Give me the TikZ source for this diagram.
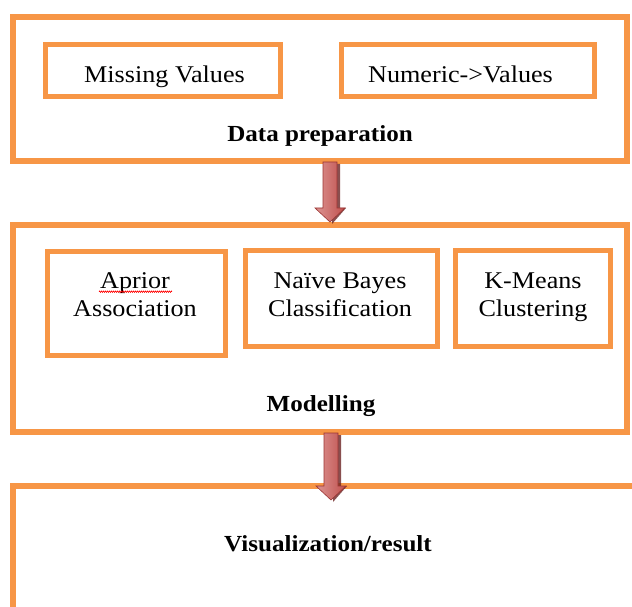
\documentclass[tikz,border=0pt]{standalone}
\usepackage{fontspec}
\setmainfont{Liberation Serif}[FakeStretch=1.09]
\usetikzlibrary{calc,decorations.pathmorphing}
\definecolor{boxorange}{HTML}{F79646}
\definecolor{arrowred}{HTML}{C0504D}
\definecolor{arrowdark}{HTML}{9B3432}
\definecolor{arrowlight}{HTML}{DC9492}
\tikzset{
  outerbox/.style={draw=boxorange, line width=5.5pt, inner sep=0pt},
  innerbox/.style={draw=boxorange, line width=5pt, inner sep=0pt},
  regtext/.style={font=\fontsize{24}{28}\selectfont, align=center, inner sep=0pt, anchor=base},
  boldtext/.style={font=\fontsize{23}{27}\selectfont\bfseries, inner sep=0pt, anchor=base},
  blockarrow/.style={left color=arrowlight, right color=arrowred, draw=arrowdark, line width=0.6pt},
  arrowshadow/.style={fill=arrowdark!70!black, draw=none, opacity=0.8},
  spellmark/.style={red, line width=0.5pt, decorate, decoration={zigzag, segment length=2pt, amplitude=0.8pt}}
}
\newcommand{\blockarr}[2]{%
  \fill[arrowshadow] ($(#1)+(3,-2)$) -- ($(#1)+(10,-2)$) -- ($(#2)+(10,14)$) -- ($(#2)+(16,14)$) -- ($(#2)+(2,-2)$) -- cycle;
  \draw[blockarrow] ($(#1)+(-7,0)$) -- ($(#1)+(7,0)$) -- ($(#2)+(7,14)$) -- ($(#2)+(15,14)$) -- (#2) -- ($(#2)+(-15,14)$) -- ($(#2)+(-7,14)$) -- cycle;
}
\begin{document}
\begin{tikzpicture}[x=1pt,y=1pt]
\useasboundingbox (0,0) rectangle (632,606);
\fill[white] (0,0) rectangle (632,606);
% Data preparation
\node[outerbox, minimum width=614pt, minimum height=144pt] (prep) at (320,517) {};
\node[innerbox, minimum width=235pt, minimum height=52pt] (missing) at (162.5,535) {};
\node[regtext] (missingt) at (164.5,523.3) {Missing Values};
\node[innerbox, minimum width=253pt, minimum height=52pt] (numeric) at (467.5,535) {};
\node[regtext] (numerict) at (460.5,523.3) {Numeric->Values};
\node[boldtext] (prept) at (320,464.3) {Data preparation};
% Modelling
\node[outerbox, minimum width=614pt, minimum height=207pt] (model) at (320,277.5) {};
\node[innerbox, minimum width=178pt, minimum height=103pt] (apr) at (136,302.5) {};
\node[regtext] (aprt) at (135,290) {Aprior\\Association};
\node[innerbox, minimum width=192pt, minimum height=95pt] (nb) at (341,307.5) {};
\node[regtext] (nbt) at (340,290) {Naïve Bayes\\Classification};
\node[innerbox, minimum width=155pt, minimum height=95pt] (km) at (532.5,307.5) {};
\node[regtext] (kmt) at (533,290) {K-Means\\Clustering};
\coordinate (sp1) at (99,314.3);
\coordinate (sp2) at (172,314.3);
\draw[spellmark] (sp1) -- (sp2);
\node[boldtext] (modelt) at (321,194.3) {Modelling};
% Visualization
\coordinate (visbl) at (13,-10);
\coordinate (vistl) at (13,120);
\coordinate (vistr) at (640,120);
\draw[draw=boxorange, line width=5.5pt] (visbl) -- (vistl) -- (vistr);
\node[boldtext] (vist) at (328,55) {Visualization/result};
% Arrows
\coordinate (a1s) at (330,444);
\coordinate (a1e) at (330,384);
\coordinate (a2s) at (331,173);
\coordinate (a2e) at (331,106);
\blockarr{a1s}{a1e}
\blockarr{a2s}{a2e}
\end{tikzpicture}
\end{document}
